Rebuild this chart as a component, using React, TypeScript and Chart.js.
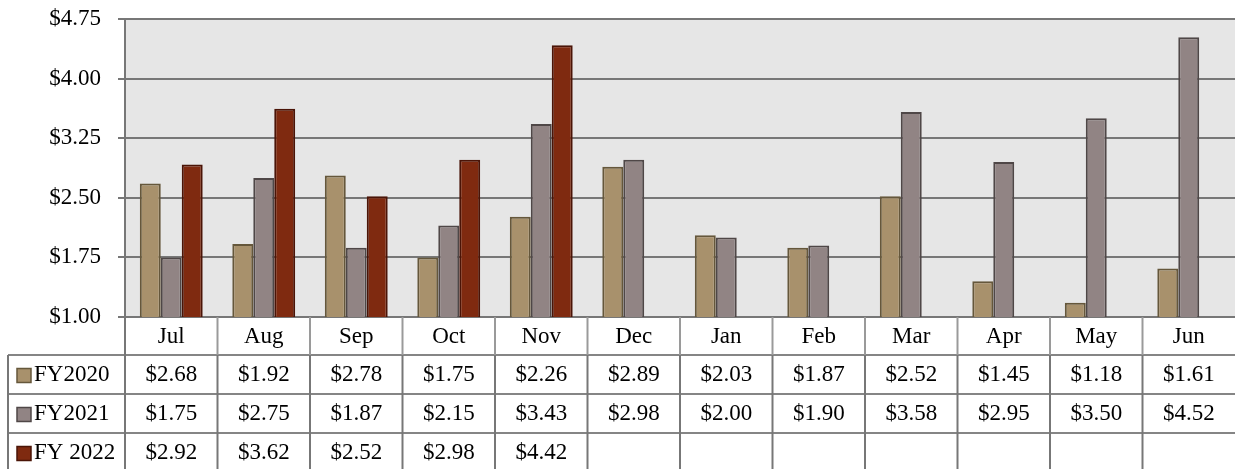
import React, { useEffect, useRef } from "react";
import { Chart, registerables } from "chart.js";

Chart.register(...registerables);

const months = ["Jul", "Aug", "Sep", "Oct", "Nov", "Dec", "Jan", "Feb", "Mar", "Apr", "May", "Jun"];
const seriesNames = ["FY2020", "FY2021", "FY 2022"];
const fy2020 = [2.68, 1.92, 2.78, 1.75, 2.26, 2.89, 2.03, 1.87, 2.52, 1.45, 1.18, 1.61];
const fy2021 = [1.75, 2.75, 1.87, 2.15, 3.43, 2.98, 2.0, 1.9, 3.58, 2.95, 3.5, 4.52];
const fy2022 = [2.92, 3.62, 2.52, 2.98, 4.42, null, null, null, null, null, null, null];
const yTicks = [1.0, 1.75, 2.5, 3.25, 4.0, 4.75];

const fills = ["#A8916C", "#918484", "#7F2A10"];
const borders = ["#65573B", "#4F4747", "#4A1407"];
const FONT = '"Liberation Serif", "Times New Roman", serif';

const tablePlugin = {
  id: "dataTable",
  beforeDraw(chart: any) {
    const { ctx, chartArea } = chart;
    ctx.save();
    ctx.fillStyle = "#E6E6E6";
    ctx.fillRect(chartArea.left, chartArea.top, chartArea.right - chartArea.left, chartArea.bottom - chartArea.top);
    ctx.restore();
  },
  afterDraw(chart: any) {
    const { ctx, chartArea } = chart;
    const x = chart.scales.x;
    const n = months.length;
    const colW = (chartArea.right - chartArea.left) / n;
    const top = chartArea.bottom;
    const rows = [top, top + 38, top + 77, top + 116, top + 155];
    const legendLeft = 8;
    const right = chart.width;
    const bottom = chart.height;
    const data = [fy2020, fy2021, fy2022];

    ctx.save();
    ctx.lineWidth = 2;
    ctx.strokeStyle = "#858585";
    for (let r = 1; r < 4; r++) {
      ctx.beginPath();
      ctx.moveTo(legendLeft, rows[r]);
      ctx.lineTo(right, rows[r]);
      ctx.stroke();
    }
    ctx.strokeStyle = "#9A9A9A";
    for (let i = 1; i < n; i++) {
      const bx = x.getPixelForValue(i) - colW / 2;
      ctx.beginPath();
      ctx.moveTo(bx, rows[0]);
      ctx.lineTo(bx, rows[1]);
      ctx.stroke();
    }
    ctx.strokeStyle = "#777777";
    for (let i = 1; i < n; i++) {
      const bx = x.getPixelForValue(i) - colW / 2;
      ctx.beginPath();
      ctx.moveTo(bx, rows[1]);
      ctx.lineTo(bx, bottom);
      ctx.stroke();
    }
    ctx.beginPath();
    ctx.moveTo(chartArea.left, rows[0]);
    ctx.lineTo(chartArea.left, bottom);
    ctx.stroke();
    ctx.beginPath();
    ctx.moveTo(legendLeft, rows[1]);
    ctx.lineTo(legendLeft, bottom);
    ctx.stroke();

    ctx.fillStyle = "#000";
    ctx.font = `23px ${FONT}`;
    ctx.textAlign = "center";
    ctx.textBaseline = "middle";
    for (let i = 0; i < n; i++) {
      const cx = x.getPixelForValue(i);
      ctx.fillText(months[i], cx, (rows[0] + rows[1]) / 2 + 1);
      for (let s = 0; s < 3; s++) {
        const v = data[s][i];
        if (v != null) {
          ctx.fillText("$" + v.toFixed(2), cx, (rows[s + 1] + rows[s + 2]) / 2);
        }
      }
    }
    ctx.textAlign = "left";
    for (let s = 0; s < 3; s++) {
      const cy = (rows[s + 1] + rows[s + 2]) / 2;
      ctx.fillStyle = fills[s];
      ctx.fillRect(17, cy - 6, 14, 14);
      ctx.strokeStyle = borders[s];
      ctx.lineWidth = 1.5;
      ctx.strokeRect(17, cy - 6, 14, 14);
      ctx.fillStyle = "#000";
      ctx.fillText(seriesNames[s], 34, cy);
    }
    ctx.restore();
  },
};

export default function App() {
  const ref = useRef<HTMLCanvasElement>(null);
  useEffect(() => {
    if (!ref.current) return;
    const chart = new Chart(ref.current, {
      type: "bar",
      data: {
        labels: months,
        datasets: [fy2020, fy2021, fy2022].map((d, i) => ({
          label: seriesNames[i],
          data: d,
          backgroundColor: fills[i],
          borderColor: borders[i],
          borderWidth: 2,
          categoryPercentage: 0.68,
          barPercentage: 1,
        })),
      },
      options: {
        responsive: false,
        animation: false,
        layout: { padding: { left: 0, top: 19, right: 0, bottom: 152 } },
        plugins: { legend: { display: false }, tooltip: { enabled: false } },
        scales: {
          x: { display: false, offset: true, grid: { display: false } },
          y: {
            min: 1,
            max: 4.75,
            afterFit: (scale: any) => {
              scale.width = 125;
              scale.paddingTop = 0;
              scale.paddingBottom = 0;
            },
            afterBuildTicks: (scale: any) => {
              scale.ticks = yTicks.map((v) => ({ value: v }));
            },
            ticks: {
              padding: 17,
              color: "#000",
              font: { family: FONT, size: 23 },
              callback: (v: any) => "$" + Number(v).toFixed(2),
            },
            grid: { color: "#777777", lineWidth: 2, tickLength: 7 },
            border: { color: "#777777", width: 2 },
          },
        },
      },
      plugins: [tablePlugin],
    });
    return () => chart.destroy();
  }, []);
  return (
    <div style={{ position: "fixed", left: 0, top: 0, width: 1235, height: 469, background: "#fff" }}>
      <canvas ref={ref} width={1235} height={469} style={{ display: "block" }} />
    </div>
  );
}
